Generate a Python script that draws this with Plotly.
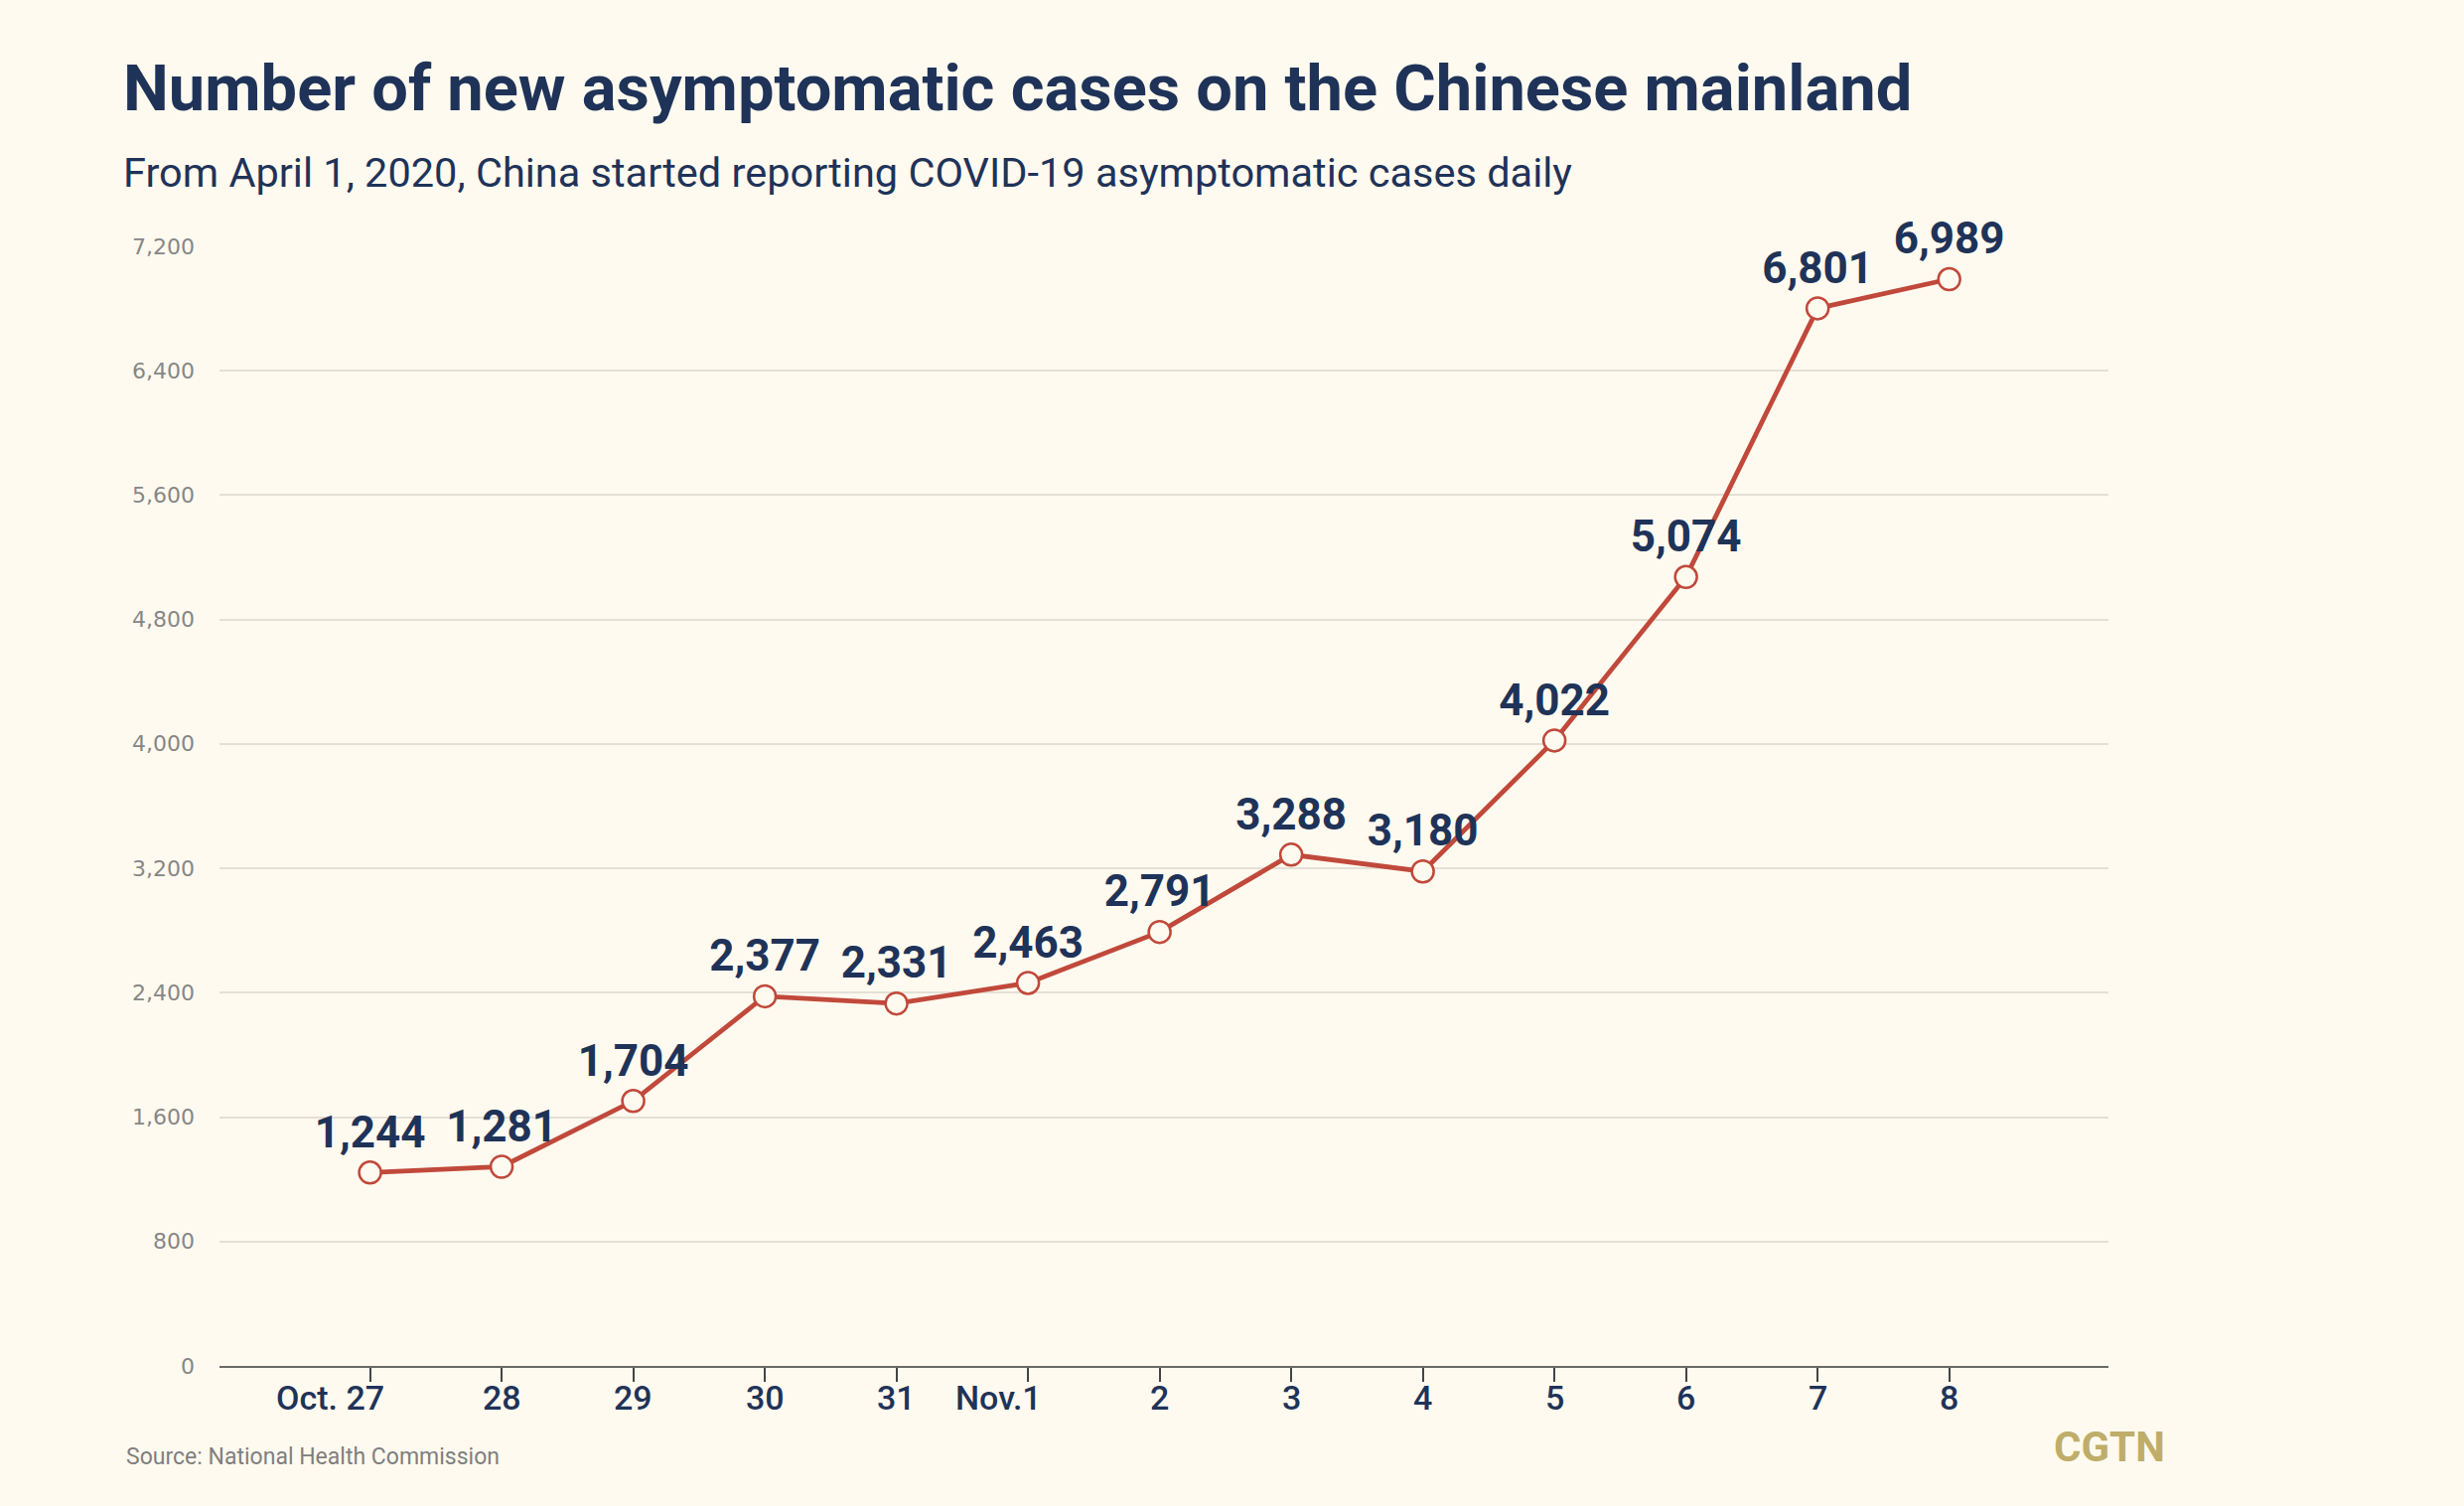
import plotly.graph_objects as go

# ---- data ----
dates = ["Oct. 27", "28", "29", "30", "31", "Nov.1", "2", "3", "4", "5", "6", "7", "8"]
cases = [1244, 1281, 1704, 2377, 2331, 2463, 2791, 3288, 3180, 4022, 5074, 6801, 6989]
y_ticks = [0, 800, 1600, 2400, 3200, 4000, 4800, 5600, 6400, 7200]

title = "Number of new asymptomatic cases on the Chinese mainland"
subtitle = "From April 1, 2020, China started reporting COVID-19 asymptomatic cases daily"
source = "Source: National Health Commission"

NAVY = "#1f3359"
RED = "#c0493b"
BG = "#fffaef"
GRID = "#e4e0d5"
COND = "Roboto, sans-serif"

xs = list(range(len(dates)))

fig = go.Figure()
fig.add_trace(go.Scatter(
    x=xs, y=cases, mode="lines+markers+text",
    line=dict(color=RED, width=4.8),
    marker=dict(size=22, color=BG, line=dict(color=RED, width=2.5)),
    text=[f"{v:,}" for v in cases], textposition="top center",
    textfont=dict(family=COND, size=44, color=NAVY, weight="bold"),
    cliponaxis=False, hoverinfo="skip",
))

annotations = []
for i, lab in enumerate(dates):
    if lab in ("Oct. 27", "Nov.1"):
        anchor, shift = "right", 16
    else:
        anchor, shift = "center", 0
    annotations.append(dict(
        x=i, y=-0.0284, xref="x", yref="paper", text=lab, showarrow=False,
        xanchor=anchor, yanchor="middle", xshift=shift,
        font=dict(family=COND, size=34, color=NAVY, weight=500),
    ))

for v in y_ticks:
    annotations.append(dict(
        x=-0.0121, y=v, xref="paper", yref="y", text=f"{v:,}", showarrow=False,
        xanchor="right", yanchor="middle",
        font=dict(family="DejaVu Sans", size=22, color="#878787"),
    ))

annotations += [
    dict(x=-0.052, y=1.141, xref="paper", yref="paper", text=f"<b>{title}</b>",
         showarrow=False, xanchor="left", yanchor="middle",
         font=dict(family=COND, size=65, color=NAVY)),
    dict(x=-0.052, y=1.066, xref="paper", yref="paper", text=subtitle,
         showarrow=False, xanchor="left", yanchor="middle",
         font=dict(family=COND, size=41.5, color=NAVY)),
    dict(x=-0.0505, y=-0.0816, xref="paper", yref="paper", text=source,
         showarrow=False, xanchor="left", yanchor="middle",
         font=dict(family=COND, size=23, color="#7f7f7f")),
    dict(x=1.0005, y=-0.0719, xref="paper", yref="paper", text="<b>CGTN</b>",
         showarrow=False, xanchor="center", yanchor="middle",
         font=dict(family=COND, size=42, color="#bfad6a")),
]

fig.update_layout(
    width=2481, height=1516,
    paper_bgcolor=BG, plot_bgcolor=BG,
    margin=dict(l=221, r=358, t=248, b=141),
    showlegend=False,
    annotations=annotations,
    xaxis=dict(
        range=[-1.144, 13.21], tickvals=xs, showticklabels=False,
        showgrid=False, zeroline=False,
        showline=True, linecolor="#6a6a66", linewidth=2,
        ticks="outside", ticklen=14, tickcolor="#444", tickwidth=2,
    ),
    yaxis=dict(
        range=[0, 7200], tickvals=y_ticks, showticklabels=False,
        showgrid=True, gridcolor=GRID, gridwidth=2,
        zeroline=False, showline=False, ticks="",
    ),
)

fig.write_html(
    "out.html",
    config={"displayModeBar": False},
    post_script="document.body.style.margin='0';document.body.style.overflow='hidden';",
)
